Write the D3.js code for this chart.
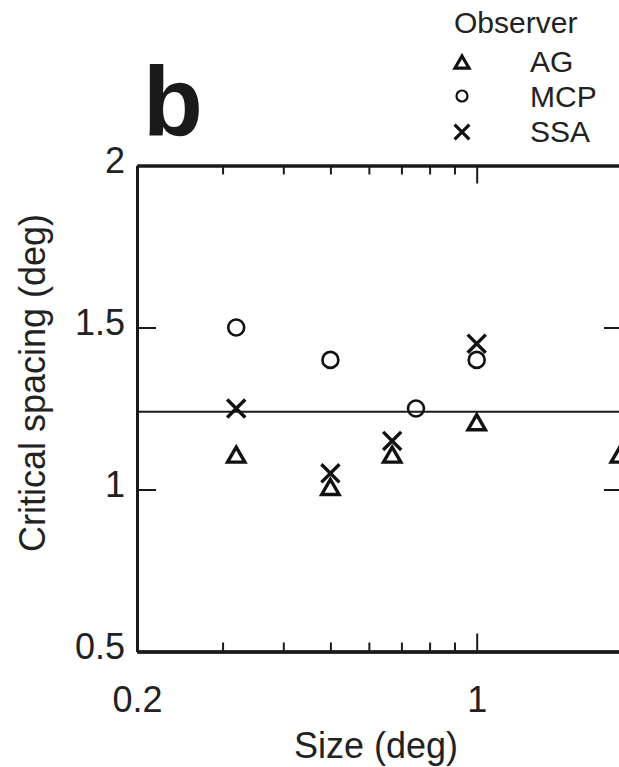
<!DOCTYPE html>
<html>
<head>
<meta charset="utf-8">
<script src="https://cdn.jsdelivr.net/npm/d3@7"></script>
<style>
    body { margin: 0; background: #fff; }
    svg { display: block; font-family: "Liberation Sans", Arial, Helvetica, sans-serif; }
    .axis path { stroke: #1a1a1a; stroke-width: 3px; }
    .axis line { stroke: #1a1a1a; stroke-width: 2px; }
    .axis text { fill: #222; font-size: 36px; font-family: "Liberation Sans", Arial, sans-serif; }
    .title { fill: #222; font-size: 36px; }
    .legend { fill: #222; font-size: 30px; }
    .marker { fill: none; stroke: #111; }
</style>
</head>
<body>
<div id="chart"></div>
<script>
// observers, in legend order
var observers = ["AG", "MCP", "SSA"];

// letter size (deg) and critical spacing (deg) per observer
var agSize = [0.32, 0.5, 0.67, 1.0, 1.97];
var agSpacing = [1.1, 1.0, 1.1, 1.2, 1.1];
var mcpSize = [0.32, 0.5, 0.75, 1.0];
var mcpSpacing = [1.5, 1.4, 1.25, 1.4];
var ssaSize = [0.32, 0.5, 0.67, 1.0];
var ssaSpacing = [1.25, 1.05, 1.15, 1.45];

// horizontal reference line
var meanSpacing = 1.24;

// ticks
var xLabelTicks = [0.2, 1];
var xMajorTicks = [1, 2];
var xMinorTicks = [0.3, 0.4, 0.5, 0.6, 0.7, 0.8, 0.9];
var yTicks = [0.5, 1, 1.5, 2];
var yInnerTicks = [1, 1.5];

var margin = {top: 165.5, right: -4, bottom: 115.5, left: 137},
    width = 619 - margin.left - margin.right,
    height = 767 - margin.top - margin.bottom;

var x = d3.scaleLog().domain([0.2, 2]).range([0, width]);
var y = d3.scaleLinear().domain([0.5, 2]).range([height, 0]);

var root = d3.select("#chart").append("svg")
    .attr("width", 619)
    .attr("height", 767);

var svg = root.append("g")
    .attr("transform", "translate(" + margin.left + "," + margin.top + ")");

// bottom axis
svg.append("g")
    .attr("class", "axis")
    .attr("transform", "translate(0," + height + ")")
    .call(d3.axisBottom(x).tickValues(xMinorTicks).tickSize(-9).tickSizeOuter(0).tickFormat(""));

svg.append("g")
    .attr("class", "axis")
    .attr("transform", "translate(0," + height + ")")
    .call(d3.axisBottom(x).tickValues(xMajorTicks).tickSize(-18).tickSizeOuter(0).tickFormat(""));

svg.append("g")
    .attr("class", "axis")
    .attr("transform", "translate(0," + height + ")")
    .call(d3.axisBottom(x).tickValues(xLabelTicks).tickSize(0).tickSizeOuter(0).tickPadding(35)
        .tickFormat(function (d) { return d; }));

// top axis
svg.append("g")
    .attr("class", "axis")
    .call(d3.axisTop(x).tickValues(xMinorTicks).tickSize(-9).tickSizeOuter(0).tickFormat(""));

svg.append("g")
    .attr("class", "axis")
    .call(d3.axisTop(x).tickValues(xMajorTicks).tickSize(-18).tickSizeOuter(0).tickFormat(""));

// left axis
var yAxis = svg.append("g")
    .attr("class", "axis")
    .call(d3.axisLeft(y).tickValues(yTicks).tickSize(-19).tickSizeOuter(0).tickPadding(12)
        .tickFormat(function (d) { return d; }));
yAxis.selectAll("text").attr("dy", "0.2em");

// right axis
svg.append("g")
    .attr("class", "axis")
    .attr("transform", "translate(" + width + ",0)")
    .call(d3.axisRight(y).tickValues(yInnerTicks).tickSize(-19).tickSizeOuter(0).tickFormat(""));

// reference line
svg.append("line")
    .attr("x1", x.range()[0])
    .attr("x2", x.range()[1])
    .attr("y1", y(meanSpacing))
    .attr("y2", y(meanSpacing))
    .style("stroke", "#1a1a1a")
    .style("stroke-width", 2);

var triangle = d3.symbol().type(d3.symbolTriangle2).size(215),
    circle = d3.symbol().type(d3.symbolCircle).size(200),
    cross = d3.symbol().type(d3.symbolTimes).size(215);

function drawPoints(sizes, spacings, shape, strokeWidth) {
    svg.selectAll(null)
        .data(d3.zip(sizes, spacings))
        .enter().append("path")
        .attr("class", "marker")
        .attr("d", shape)
        .attr("transform", function (d) {
            return "translate(" + x(d[0]) + "," + y(d[1]) + ")";
        })
        .style("stroke-width", strokeWidth);
}

drawPoints(agSize, agSpacing, triangle, 3.4);
drawPoints(mcpSize, mcpSpacing, circle, 2.6);
drawPoints(ssaSize, ssaSpacing, cross, 3.4);

// axis titles
root.append("text")
    .attr("class", "title")
    .attr("x", 376)
    .attr("y", 758)
    .style("text-anchor", "middle")
    .text("Size (deg)");

root.append("text")
    .attr("class", "title")
    .attr("transform", "translate(45,383) rotate(-90)")
    .style("text-anchor", "middle")
    .text("Critical spacing (deg)");

// panel letter
root.append("text")
    .attr("x", 143)
    .attr("y", 135)
    .style("font-size", "98px")
    .style("font-weight", "bold")
    .style("fill", "#1a1a1a")
    .text("b");

// legend
root.append("text")
    .attr("class", "legend")
    .attr("x", 454)
    .attr("y", 33)
    .text("Observer");

var legendShapes = [
    d3.symbol().type(d3.symbolTriangle2).size(140),
    d3.symbol().type(d3.symbolCircle).size(95),
    d3.symbol().type(d3.symbolTimes).size(145)
];
var legendMarkY = [64, 96, 132],
    legendTextY = [72, 107, 142];

observers.forEach(function (name, i) {
    root.append("path")
        .attr("class", "marker")
        .attr("d", legendShapes[i])
        .attr("transform", "translate(462," + legendMarkY[i] + ")")
        .style("stroke-width", i === 1 ? 2.2 : 3.2);

    root.append("text")
        .attr("class", "legend")
        .attr("x", 530)
        .attr("y", legendTextY[i])
        .text(name);
});
</script>
</body>
</html>
